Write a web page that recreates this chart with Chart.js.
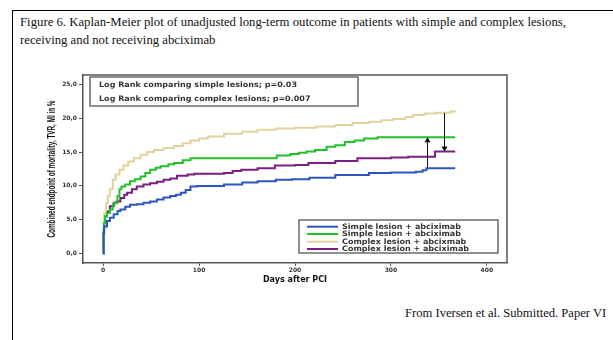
<!DOCTYPE html>
<html>
<head>
<meta charset="utf-8">
<script src="https://cdn.jsdelivr.net/npm/chart.js@4"></script>
<style>
html,body{margin:0;padding:0;background:#fff;width:613px;height:340px;overflow:hidden;position:relative}
#frame{position:absolute;left:12px;top:10px;width:700px;height:400px;border-left:1px solid #000;border-top:1px solid #000}
.serif{position:absolute;font-family:'Liberation Serif','Times New Roman',serif;line-height:18px;color:#111;white-space:nowrap}
#title{left:20px;top:13px;font-size:12.75px}
#caption{left:405px;top:304px;font-size:12.6px}
#wrap{position:absolute;left:0;top:0;width:613px;height:340px}
</style>
</head>
<body>
<div id="frame"></div>
<div id="title" class="serif">Figure 6. Kaplan-Meier plot of unadjusted long-term outcome in patients with simple and complex lesions,<br>receiving and not receiving abciximab</div>
<div id="caption" class="serif">From Iversen et al. Submitted. Paper VI</div>
<div id="wrap"><canvas id="c" width="613" height="340"></canvas></div>
<script>
// ---- data ----
const xTicks = [0, 100, 200, 300, 400];
const yTicks = [0, 5, 10, 15, 20, 25];

const seriesLabels = [
  'Simple lesion + abciximab',
  'Simple lesion + abciximab',
  'Complex lesion + abcixmab',
  'Complex lesion + abciximab'
];

const simpleBlueDays = [0, 0.5, 1, 4, 7, 11, 15, 18, 23, 28, 35, 42, 49, 56, 63, 70, 76, 81, 86, 91, 98, 126, 145, 161, 180, 197, 215, 242, 277, 300, 326, 333, 337, 367];
const simpleBlueVals = [0, 3.0, 4.0, 4.8, 5.3, 5.8, 6.3, 6.5, 6.9, 7.2, 7.3, 7.5, 7.7, 8.0, 8.3, 8.5, 8.7, 9.0, 9.4, 9.9, 10.0, 10.2, 10.5, 10.7, 10.9, 11.0, 11.2, 11.6, 11.9, 12.0, 12.1, 12.3, 12.6, 12.6];

const simpleGreenDays = [0, 0.5, 1, 2, 4, 7, 10, 12, 15, 17, 19, 23, 28, 33, 39, 44, 49, 55, 60, 68, 74, 83, 91, 181, 195, 204, 212, 221, 233, 242, 252, 262, 272, 286, 367];
const simpleGreenVals = [0, 3.5, 4.5, 5.5, 6.0, 6.5, 7.2, 7.5, 8.5, 9.5, 9.9, 10.2, 10.7, 11.0, 11.4, 11.9, 12.4, 12.7, 12.9, 13.2, 13.4, 13.8, 14.1, 14.5, 14.7, 14.9, 15.1, 15.3, 15.8, 16.0, 16.5, 16.7, 17.0, 17.2, 17.2];

const complexTanDays = [0, 0.5, 1, 3, 5, 7, 10, 13, 17, 21, 26, 32, 39, 46, 53, 63, 74, 83, 91, 100, 109, 126, 145, 161, 180, 200, 222, 242, 260, 277, 290, 302, 315, 323, 335, 347, 362, 367];
const complexTanVals = [0, 4.5, 6.0, 7.5, 8.5, 9.5, 10.9, 11.7, 12.4, 13.0, 13.6, 14.1, 14.6, 15.0, 15.3, 15.6, 15.9, 16.3, 16.7, 17.0, 17.3, 17.7, 18.0, 18.3, 18.5, 18.6, 18.8, 19.0, 19.3, 19.5, 19.7, 19.9, 20.2, 20.5, 20.7, 20.8, 21.0, 21.2];

const complexPurpleDays = [0, 0.5, 1, 2, 4, 7, 11, 14, 18, 22, 25, 30, 35, 42, 49, 56, 63, 70, 77, 88, 95, 126, 135, 144, 161, 179, 200, 214, 242, 265, 300, 318, 346, 367];
const complexPurpleVals = [0, 3.0, 4.5, 5.5, 6.2, 7.0, 7.5, 7.7, 8.2, 8.7, 9.0, 9.5, 9.9, 10.2, 10.4, 10.6, 10.9, 11.1, 11.5, 11.7, 11.8, 11.9, 12.2, 12.4, 12.6, 13.0, 13.1, 13.4, 13.7, 14.1, 14.2, 14.3, 15.1, 15.1];

const logRankLines = [
  'Log Rank comparing simple lesions; p=0.03',
  'Log Rank comparing complex lesions; p=0.007'
];

const arrowDays = [338, 355];
const arrowFrom = [12.6, 20.8];
const arrowTo = [17.2, 15.1];

const xTitle = 'Days after PCI';
const yTitle = 'Combined endpoint of mortality, TVR, MI in %';

// ---- chart ----
function pts(days, vals) { return days.map((d, i) => ({x: d, y: vals[i]})); }
const colors = ['#2d55c0', '#22c02a', '#e2d29e', '#7b1f80'];
const series = [
  pts(simpleBlueDays, simpleBlueVals),
  pts(simpleGreenDays, simpleGreenVals),
  pts(complexTanDays, complexTanVals),
  pts(complexPurpleDays, complexPurpleVals)
];
const datasets = series.map((d, i) => ({
  label: seriesLabels[i],
  data: d,
  borderColor: colors[i],
  backgroundColor: colors[i],
  borderWidth: 2,
  pointRadius: 0,
  stepped: true,
  fill: false
}));

const SANS = '"DejaVu Sans", Verdana, sans-serif';

function fitText(ctx, text, x, y, sx) {
  ctx.save();
  ctx.translate(x, y);
  ctx.scale(sx, 1);
  ctx.fillText(text, 0, 0);
  ctx.restore();
}

const decor = {
  id: 'decor',
  beforeDatasetsDraw(chart) {
    const {ctx, chartArea: a} = chart;
    ctx.save();
    ctx.strokeStyle = '#555';
    ctx.lineWidth = 1.5;
    ctx.beginPath();
    ctx.moveTo(a.left, a.top); ctx.lineTo(a.right, a.top); ctx.lineTo(a.right, a.bottom);
    ctx.stroke();
    ctx.restore();
  },
  afterDatasetsDraw(chart) {
    const {ctx, scales: {x, y}, chartArea: a} = chart;
    ctx.save();
    // arrows
    ctx.strokeStyle = '#111'; ctx.fillStyle = '#111'; ctx.lineWidth = 1;
    arrowDays.forEach((d, i) => {
      const px = Math.round(x.getPixelForValue(d)) + 0.5;
      const y1 = y.getPixelForValue(arrowFrom[i]);
      const y2 = y.getPixelForValue(arrowTo[i]);
      const dir = y2 < y1 ? -1 : 1;
      ctx.beginPath(); ctx.moveTo(px, y1); ctx.lineTo(px, y2 - dir * 4); ctx.stroke();
      ctx.beginPath(); ctx.moveTo(px, y2); ctx.lineTo(px - 3, y2 - dir * 5); ctx.lineTo(px + 3, y2 - dir * 5); ctx.closePath(); ctx.fill();
    });
    ctx.font = 'bold 7.5px ' + SANS; ctx.textBaseline = 'middle'; ctx.textAlign = 'left';
    // log rank box
    ctx.fillStyle = '#fff'; ctx.strokeStyle = '#555'; ctx.lineWidth = 1.3;
    ctx.fillRect(90, 77, 268, 29); ctx.strokeRect(90, 77, 268, 29);
    ctx.fillStyle = '#333';
    const s1 = 198 / ctx.measureText(logRankLines[0]).width;
    fitText(ctx, logRankLines[0], 99, 85, s1);
    fitText(ctx, logRankLines[1], 99, 99, s1);
    // legend box
    ctx.fillStyle = '#fff'; ctx.strokeStyle = '#555'; ctx.lineWidth = 1.3;
    ctx.fillRect(299, 220, 199, 33); ctx.strokeRect(299, 220, 199, 33);
    const rows = [226.7, 234, 241.7, 249];
    const s2 = 119 / ctx.measureText(seriesLabels[0]).width;
    datasets.forEach((ds, i) => {
      ctx.strokeStyle = ds.borderColor; ctx.lineWidth = 2;
      ctx.beginPath(); ctx.moveTo(307, rows[i]); ctx.lineTo(338, rows[i]); ctx.stroke();
      ctx.fillStyle = '#333';
      fitText(ctx, ds.label, 342, rows[i], s2);
    });
    // y title (condensed)
    ctx.translate(52, (a.top + a.bottom) / 2);
    ctx.rotate(-Math.PI / 2);
    ctx.font = 'bold 10px "Liberation Sans", Arial, sans-serif';
    const w = ctx.measureText(yTitle).width;
    ctx.scale(137 / w, 1);
    ctx.textAlign = 'center';
    ctx.fillStyle = '#111';
    ctx.fillText(yTitle, 0, 0);
    ctx.restore();
  }
};

new Chart(document.getElementById('c'), {
  type: 'line',
  data: {datasets},
  plugins: [decor],
  options: {
    responsive: false,
    animation: false,
    events: [],
    layout: {padding: {left: 0, top: 75, right: 106, bottom: 0}},
    plugins: {legend: {display: false}, tooltip: {enabled: false}},
    scales: {
      x: {
        type: 'linear', min: -21, max: 421,
        afterBuildTicks: s => { s.ticks = xTicks.map(v => ({value: v})); },
        afterFit: s => { s.height = 77; },
        ticks: {font: {size: 6, weight: 'bold', family: SANS}, color: '#333', padding: 1, maxRotation: 0, autoSkip: false},
        grid: {drawOnChartArea: false, drawTicks: true, tickLength: 3, color: '#555'},
        border: {color: '#555', width: 1.5},
        title: {display: true, text: xTitle, color: '#111', font: {family: SANS, size: 8, weight: 'bold'}, padding: {top: 0, bottom: 55}}
      },
      y: {
        type: 'linear', min: -1.4, max: 26.4,
        afterBuildTicks: s => { s.ticks = yTicks.map(v => ({value: v})); },
        afterFit: s => { s.width = 83; },
        ticks: {font: {size: 6, weight: 'bold', family: SANS}, color: '#333', padding: 2, autoSkip: false,
                callback: v => v.toFixed(1).replace('.', ',')},
        grid: {drawOnChartArea: false, drawTicks: true, tickLength: 4, color: '#555'},
        border: {color: '#555', width: 1.5}
      }
    }
  }
});
</script>
</body>
</html>
